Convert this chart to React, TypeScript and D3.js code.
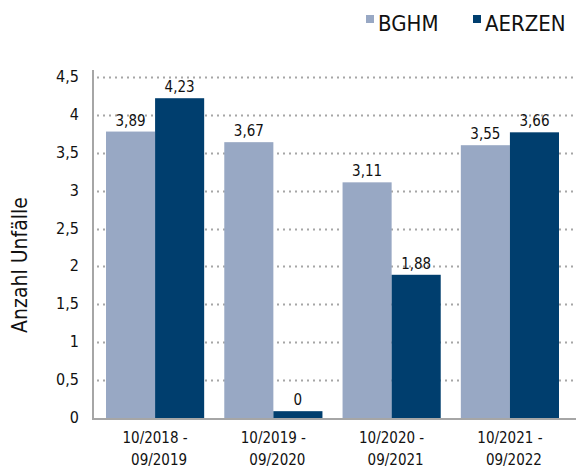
import React, { useEffect, useRef } from "react";
import * as d3 from "d3";

const periods = ["10/2018 - 09/2019", "10/2019 - 09/2020", "10/2020 - 09/2021", "10/2021 - 09/2022"];
const seriesNames = ["BGHM", "AERZEN"];
// bar heights as drawn in the picture
const bghm = [3.78, 3.64, 3.11, 3.6];
const aerzen = [4.22, 0.09, 1.89, 3.77];
// value labels as printed
const bghmLabels = ["3,89", "3,67", "3,11", "3,55"];
const aerzenLabels = ["4,23", "0", "1,88", "3,66"];
const yTicks = [0, 0.5, 1, 1.5, 2, 2.5, 3, 3.5, 4, 4.5];
const colors = ["#98a8c4", "#003e6e"];

const font = "'DejaVu Sans Condensed', 'DejaVu Sans', sans-serif";

const App: React.FC = () => {
    const ref = useRef<SVGSVGElement>(null);

    useEffect(() => {
        if (!ref.current) return;
        const svg = d3.select(ref.current);
        svg.selectAll("*").remove();

        const y = d3.scaleLinear().domain([0, 4.5]).range([418, 77]);
        const x0 = d3.scaleBand<string>().domain(periods).range([95, 570]).paddingInner(0.17).paddingOuter(0.093);
        const x1 = d3.scaleBand<string>().domain(seriesNames).range([0, x0.bandwidth()]);

        // gridlines
        svg.append("g")
            .selectAll("line")
            .data(yTicks.filter((d) => d > 0))
            .join("line")
            .attr("x1", 97)
            .attr("x2", 576)
            .attr("y1", (d) => Math.round(y(d)) + 0.5)
            .attr("y2", (d) => Math.round(y(d)) + 0.5)
            .attr("stroke", "#a6a6a6")
            .attr("stroke-width", 2)
            .attr("stroke-dasharray", "2,4");

        // y tick labels
        svg.append("g")
            .selectAll("text")
            .data(yTicks)
            .join("text")
            .attr("x", 79)
            .attr("y", (d) => y(d) + 5)
            .attr("text-anchor", "end")
            .attr("font-family", font)
            .attr("font-size", 16)
            .attr("fill", "#111")
            .text((d) => String(d).replace(".", ","));

        const rows = periods.map((p, i) => ({
            period: p,
            vals: [
                { s: seriesNames[0], v: bghm[i], label: bghmLabels[i], c: colors[0] },
                { s: seriesNames[1], v: aerzen[i], label: aerzenLabels[i], c: colors[1] },
            ],
        }));

        const groups = svg
            .append("g")
            .selectAll("g")
            .data(rows)
            .join("g")
            .attr("transform", (d) => `translate(${x0(d.period)},0)`);

        groups
            .selectAll("rect")
            .data((d) => d.vals)
            .join("rect")
            .attr("x", (d) => x1(d.s)!)
            .attr("width", x1.bandwidth())
            .attr("y", (d) => y(d.v))
            .attr("height", (d) => y(0) - y(d.v))
            .attr("fill", (d) => d.c);

        groups
            .selectAll("text")
            .data((d) => d.vals)
            .join("text")
            .attr("x", (d) => x1(d.s)! + x1.bandwidth() / 2)
            .attr("y", (d) => y(d.v) - 6)
            .attr("text-anchor", "middle")
            .attr("font-family", font)
            .attr("font-size", 15)
            .attr("fill", "#111")
            .text((d) => d.label);

        // axes lines
        svg.append("line")
            .attr("x1", 93).attr("x2", 93).attr("y1", 70).attr("y2", 419)
            .attr("stroke", "#a6a6a6").attr("stroke-width", 2);
        svg.append("line")
            .attr("x1", 92).attr("x2", 576).attr("y1", 419).attr("y2", 419)
            .attr("stroke", "#a6a6a6").attr("stroke-width", 2);

        // x labels
        const xl = svg.append("g")
            .selectAll("text")
            .data(periods)
            .join("text")
            .attr("text-anchor", "middle")
            .attr("font-family", font)
            .attr("font-size", 15)
            .attr("fill", "#111");
        xl.append("tspan")
            .attr("x", (d) => x0(d)! + x0.bandwidth() / 2)
            .attr("y", 443)
            .text((d) => d.split(" - ")[0] + " -");
        xl.append("tspan")
            .attr("x", (d) => x0(d)! + x0.bandwidth() / 2 + 4)
            .attr("y", 465)
            .text((d) => d.split(" - ")[1]);

        // y title
        svg.append("text")
            .attr("transform", "translate(27,265) rotate(-90)")
            .attr("text-anchor", "middle")
            .attr("font-family", font)
            .attr("font-size", 21)
            .attr("fill", "#111")
            .text("Anzahl Unfälle");

        // legend
        const legendX = [366, 473];
        const leg = svg.append("g")
            .selectAll("g")
            .data(seriesNames)
            .join("g")
            .attr("transform", (_, i) => `translate(${legendX[i]},0)`);
        leg.append("rect").attr("x", 0).attr("y", 15).attr("width", 8).attr("height", 8).attr("fill", (_, i) => colors[i]);
        leg.append("text")
            .attr("x", 12)
            .attr("y", 31)
            .attr("font-family", font)
            .attr("font-size", 22)
            .attr("fill", "#111")
            .text((d) => d);
    }, []);

    return (
        <svg
            ref={ref}
            width={576}
            height={469}
            style={{ position: "absolute", left: 0, top: 0, background: "#fff" }}
        />
    );
};

export default App;
